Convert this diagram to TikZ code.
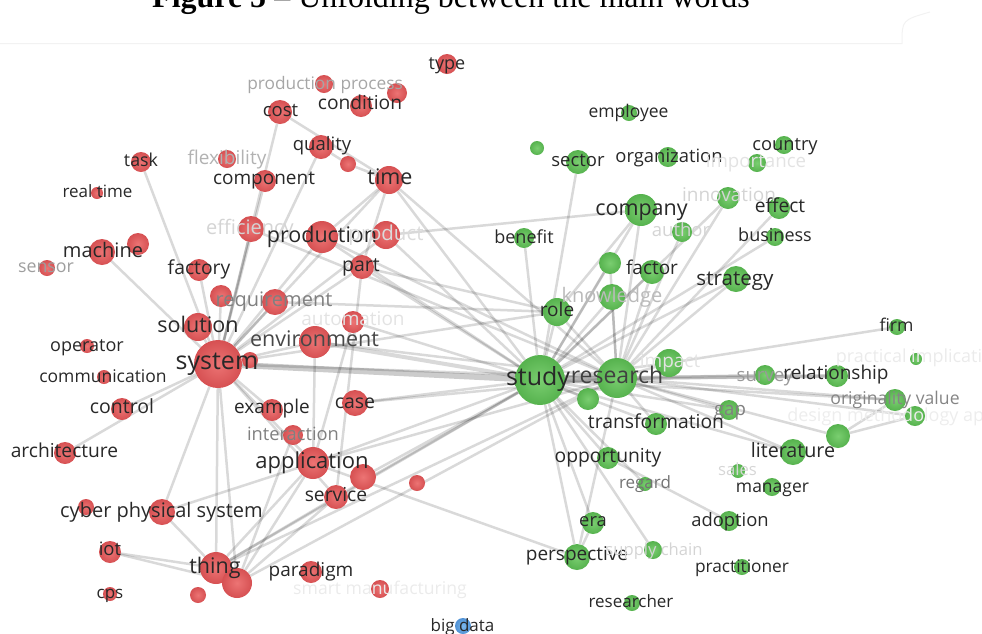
\documentclass[tikz,border=0pt]{standalone}
\usepackage{fontspec}
\newfontfamily\lab{Open Sans}
\newfontfamily\tit{Liberation Serif}
\pgfdeclarelayer{bg}
\pgfdeclarelayer{fg}
\pgfsetlayers{bg,main,fg}
\definecolor{redI}{RGB}{236,116,116}
\definecolor{redO}{RGB}{214,80,82}
\definecolor{grnI}{RGB}{122,206,112}
\definecolor{grnO}{RGB}{86,178,78}
\definecolor{bluI}{RGB}{124,184,236}
\definecolor{bluO}{RGB}{80,146,214}
\definecolor{txt}{RGB}{40,40,40}
\tikzset{
  rdot/.style={circle, inner sep=0pt, minimum size=2*#1pt, inner color=redI, outer color=redO},
  gdot/.style={circle, inner sep=0pt, minimum size=2*#1pt, inner color=grnI, outer color=grnO},
  bdot/.style={circle, inner sep=0pt, minimum size=2*#1pt, inner color=bluI, outer color=bluO},
  lbl/.style={font=\lab\fontsize{#1}{#1}\selectfont, inner sep=0pt, text height={0.72*#1pt}, text depth={0.2*#1pt}},
  edge/.style={draw=black, draw opacity=0.15, line width=2.5pt},
  bigedge/.style={draw=black, draw opacity=0.2, line width=6pt}
}
\newcommand{\nd}[5]{\node[#5=#4] (#1) at (#2,#3) {};}
\newcommand{\lb}[6]{\node[lbl=#4, text=#5] (#1) at (#2,#3) {#6};}
\begin{document}
\begin{tikzpicture}[x=1pt,y=-1pt]
\useasboundingbox (0,0) rectangle (982,633);
% title
\node[anchor=base west, inner sep=0pt, font=\tit\fontsize{32}{32}\selectfont] (title) at (152,7) {\textbf{Figure 5} – Unfolding between the main words};
% faint frame remnants
\coordinate (fl1) at (0,43.5);
\coordinate (fl2) at (902,43.5);
\coordinate (fl3) at (930,12);
\draw[black!5, line width=1pt] (fl1) -- (fl2) .. controls (902,20) .. (fl3);

% ---------- red nodes ----------
\nd{type}{447}{64}{10}{rdot}
\nd{pp}{324}{84}{9}{rdot}
\nd{r1}{397}{93}{10}{rdot}
\nd{cond}{361}{106}{11}{rdot}
\nd{cost}{280}{112}{12}{rdot}
\nd{qual}{321}{147}{12}{rdot}
\nd{r2}{348}{164}{8}{rdot}
\nd{task}{141}{162}{10}{rdot}
\nd{flex}{227}{159}{9}{rdot}
\nd{comp}{265}{181}{11}{rdot}
\nd{time}{389}{180}{14}{rdot}
\nd{rt}{97}{193}{6}{rdot}
\nd{eff}{251}{229}{13}{rdot}
\nd{prod}{322}{237}{16}{rdot}
\nd{produc}{386}{235}{14}{rdot}
\nd{r3}{138}{244}{11}{rdot}
\nd{mach}{102}{252}{13}{rdot}
\nd{sens}{47}{268}{8}{rdot}
\nd{fact}{199}{270}{11}{rdot}
\nd{part}{362}{267}{12}{rdot}
\nd{r4}{221}{296}{11}{rdot}
\nd{req}{275}{302}{13}{rdot}
\nd{auto}{353}{322}{11}{rdot}
\nd{sol}{198}{327}{14}{rdot}
\nd{env}{315}{342}{16}{rdot}
\nd{sys}{218}{364}{24}{rdot}
\nd{r5}{250}{360}{8}{rdot}
\nd{oper}{87}{346}{7}{rdot}
\nd{comm}{104}{377}{7}{rdot}
\nd{ctrl}{122}{409}{11}{rdot}
\nd{exam}{272}{410}{11}{rdot}
\nd{case}{355}{403}{13}{rdot}
\nd{inter}{293}{435}{10}{rdot}
\nd{arch}{65}{453}{11}{rdot}
\nd{appl}{313}{463}{16}{rdot}
\nd{r6}{363}{477}{13}{rdot}
\nd{r7}{417}{483}{8}{rdot}
\nd{serv}{336}{497}{12}{rdot}
\nd{r8}{86}{507}{8}{rdot}
\nd{cyb}{162}{512}{13}{rdot}
\nd{iot}{110}{552}{11}{rdot}
\nd{thing}{216}{568}{16}{rdot}
\nd{r9}{237}{583}{15}{rdot}
\nd{r10}{198}{595}{8}{rdot}
\nd{para}{311}{572}{11}{rdot}
\nd{smart}{380}{589}{9}{rdot}
\nd{cps}{110}{594}{7}{rdot}
% ---------- green nodes ----------
\nd{empl}{629}{113}{8}{gdot}
\nd{g1}{537}{148}{7}{gdot}
\nd{sect}{578}{162}{12}{gdot}
\nd{org}{668}{157}{10}{gdot}
\nd{coun}{784}{145}{9}{gdot}
\nd{imp}{757}{163}{9}{gdot}
\nd{innov}{728}{198}{11}{gdot}
\nd{compy}{641}{210}{16}{gdot}
\nd{effe}{779}{208}{11}{gdot}
\nd{auth}{682}{232}{10}{gdot}
\nd{bene}{524}{238}{10}{gdot}
\nd{busi}{775}{237}{9}{gdot}
\nd{g2}{610}{263}{11}{gdot}
\nd{factr}{652}{272}{12}{gdot}
\nd{strat}{736}{279}{13}{gdot}
\nd{know}{612}{297}{13}{gdot}
\nd{role}{557}{312}{14}{gdot}
\nd{firm}{897}{327}{8}{gdot}
\nd{pract}{916}{359}{6}{gdot}
\nd{impact}{669}{363}{14}{gdot}
\nd{study}{540}{380}{25}{gdot}
\nd{research}{617}{378}{20}{gdot}
\nd{g3}{588}{399}{11}{gdot}
\nd{surv}{765}{375}{10}{gdot}
\nd{rel}{837}{376}{11}{gdot}
\nd{orig}{895}{400}{11}{gdot}
\nd{design}{915}{416}{10}{gdot}
\nd{g4}{838}{436}{12}{gdot}
\nd{gap}{729}{410}{10}{gdot}
\nd{trans}{656}{424}{11}{gdot}
\nd{lit}{793}{452}{13}{gdot}
\nd{opp}{608}{458}{11}{gdot}
\nd{sales}{738}{471}{7}{gdot}
\nd{regard}{645}{484}{7}{gdot}
\nd{mgr}{772}{487}{9}{gdot}
\nd{era}{593}{523}{11}{gdot}
\nd{adop}{729}{521}{10}{gdot}
\nd{persp}{577}{557}{13}{gdot}
\nd{supply}{653}{550}{9}{gdot}
\nd{practr}{742}{567}{8}{gdot}
\nd{resr}{632}{603}{8}{gdot}
% ---------- blue ----------
\nd{bigd}{463}{626}{8}{bdot}

% ---------- edges ----------
\begin{pgfonlayer}{bg}
\draw[bigedge] (sys) -- (study);
\draw[bigedge] (study) -- (research);
\draw[edge, line width=4pt] (env) -- (study);
\draw[edge, line width=4pt] (research) -- (rel);
\foreach \a/\b in {cost/time, cost/sys, qual/sys, qual/r2, r2/time, task/sys, mach/sys,
  comp/sys, eff/sys, time/prod, time/sys, time/part, prod/sys, produc/sys, part/sys,
  part/serv, req/sys, r4/sys, fact/sys, sol/sys, env/sys, auto/appl, env/appl, sys/appl,
  sys/exam, sys/ctrl, sys/arch, sys/cyb, sys/thing, sys/r9, sys/serv, appl/thing, appl/r9,
  appl/cyb, serv/thing, serv/r9, iot/thing, iot/r9, cyb/thing, inter/r9,
  sys/research, sys/role, env/research, prod/study, prod/research, time/study,
  time/research, produc/compy, produc/study, part/study, part/role, req/role, auto/study,
  case/study, case/research, appl/study, appl/research, r6/study, serv/study, thing/study,
  thing/research, r9/research, persp/appl, eff/research,
  sect/study, compy/study, compy/research, bene/study, role/study, role/research,
  role/compy, know/study, know/research, factr/study, factr/research, g2/study,
  g2/research, strat/study, strat/research, innov/study, innov/research, auth/research,
  busi/study, effe/research, impact/study, impact/research, impact/firm, persp/study,
  persp/research, persp/era, era/study, opp/study, opp/adop, trans/study,
  trans/research, lit/study, lit/research, rel/study, surv/research, gap/research,
  gap/study, orig/research, orig/study, design/research, g4/research, g4/orig,
  g4/design, regard/study, supply/study, g3/study}
  \draw[edge] (\a) -- (\b);
\end{pgfonlayer}

% ---------- labels ----------
\begin{pgfonlayer}{fg}
\lb{Ltype}{447}{65}{18}{txt}{type}
\lb{Lpp}{325}{85}{17.3}{black!35}{production process}
\lb{Lcond}{360}{105}{19.2}{txt}{condition}
\lb{Lcost}{280.5}{112}{18.5}{txt}{cost}
\lb{Lqual}{322}{146}{18.5}{txt}{quality}
\lb{Ltask}{141}{162}{17.8}{txt}{task}
\lb{Lflex}{227}{160}{19}{black!30}{flexibility}
\lb{Lcomp}{264}{180}{19}{txt}{component}
\lb{Ltime}{390}{179}{21.5}{txt}{time}
\lb{Lrt}{97.5}{193}{17}{txt}{real time}
\lb{Leff}{250}{229}{20}{black!17}{efficiency}
\lb{Lprod}{322}{237}{21.5}{txt}{production}
\lb{Lproduc}{386}{235}{20.5}{black!14}{product}
\lb{Lmach}{103}{252}{20}{txt}{machine}
\lb{Lsens}{46}{268}{17.8}{black!38}{sensor}
\lb{Lfact}{199}{269}{19.3}{txt}{factory}
\lb{Lpart}{361}{266}{19.5}{txt}{part}
\lb{Lreq}{274}{301}{20}{black!50}{requirement}
\lb{Lauto}{353}{321}{19}{black!11}{automation}
\lb{Lsol}{198}{327}{21.5}{txt}{solution}
\lb{Lenv}{314.5}{341}{21.5}{black!72}{environment}
\lb{Lsys}{217}{363}{25}{txt}{system}
\lb{Loper}{87}{347}{18}{txt}{operator}
\lb{Lcomm}{103}{378}{17.5}{txt}{communication}
\lb{Lctrl}{122}{408}{19.5}{txt}{control}
\lb{Lexam}{272}{409}{19}{txt}{example}
\lb{Lcase}{355}{403}{19.5}{txt}{case}
\lb{Linter}{293}{436}{18.3}{black!50}{interaction}
\lb{Larch}{64.5}{452}{19.2}{txt}{architecture}
\lb{Lappl}{312}{463}{22}{txt}{application}
\lb{Lserv}{336}{496}{19.3}{txt}{service}
\lb{Lcyb}{161.5}{512}{20}{txt}{cyber physical system}
\lb{Liot}{110}{551}{18.5}{txt}{iot}
\lb{Lthing}{215}{568}{21.5}{txt}{thing}
\lb{Lpara}{311}{572}{19}{txt}{paradigm}
\lb{Lsmart}{380}{590}{17.6}{black!8}{smart manufacturing}
\lb{Lcps}{110}{594}{17}{txt}{cps}
\lb{Lempl}{628.5}{113}{17.5}{txt}{employee}
\lb{Lsect}{578}{162}{18.5}{txt}{sector}
\lb{Lorg}{669}{158}{18.4}{txt}{organization}
\lb{Lcoun}{785}{146}{18.3}{txt}{country}
\lb{Limp}{756}{163}{18.7}{black!11}{importance}
\lb{Linnov}{729}{197}{19}{black!17}{innovation}
\lb{Lcompy}{641.5}{210}{21.5}{txt}{company}
\lb{Leffe}{780}{207}{19.2}{txt}{effect}
\lb{Lauth}{681}{232}{18.5}{black!17}{author}
\lb{Lbene}{524}{239}{18}{txt}{benefit}
\lb{Lbusi}{775}{237}{18}{txt}{business}
\lb{Lfactr}{652}{270}{19}{txt}{factor}
\lb{Lstrat}{735}{280}{20.6}{txt}{strategy}
\lb{Lknow}{612}{297}{20}{black!27}{knowledge}
\lb{Lrole}{557}{312}{19}{txt}{role}
\lb{Lfirm}{896.5}{327}{17.6}{txt}{firm}
\lb{Lpract}{920}{358}{18}{black!8}{practical implication}
\lb{Limpact}{670}{363}{19}{black!11}{impact}
\lb{Lstudy}{538}{379}{25}{txt}{study}
\lb{Lresearch}{617}{378}{23}{black!75}{research}
\lb{Lsurv}{765}{377}{18.6}{black!40}{survey}
\lb{Lrel}{836}{375}{19}{txt}{relationship}
\lb{Lorig}{895}{400}{17.6}{black!48}{originality value}
\lb{Ldesign}{915}{417}{18}{black!7}{design methodology approach}
\lb{Lgap}{730}{411}{18.6}{black!50}{gap}
\lb{Ltrans}{656}{423}{19.3}{txt}{transformation}
\lb{Llit}{793}{452}{19.7}{txt}{literature}
\lb{Lopp}{608}{457}{19.3}{txt}{opportunity}
\lb{Lsales}{737.5}{471}{16.7}{black!16}{sales}
\lb{Lregard}{645}{484}{17}{black!55}{regard}
\lb{Lmgr}{772.5}{488}{17.5}{txt}{manager}
\lb{Lera}{593}{522}{18.3}{txt}{era}
\lb{Ladop}{730}{522}{18.4}{txt}{adoption}
\lb{Lpersp}{577}{556}{19}{txt}{perspective}
\lb{Lsupply}{654}{551}{16.6}{black!17}{supply chain}
\lb{Lpractr}{742}{568}{17.3}{txt}{practitioner}
\lb{Lresr}{631}{603}{17}{txt}{researcher}
\lb{Lbigd}{462.5}{627}{17}{txt}{big data}
\end{pgfonlayer}
\end{tikzpicture}
\end{document}
